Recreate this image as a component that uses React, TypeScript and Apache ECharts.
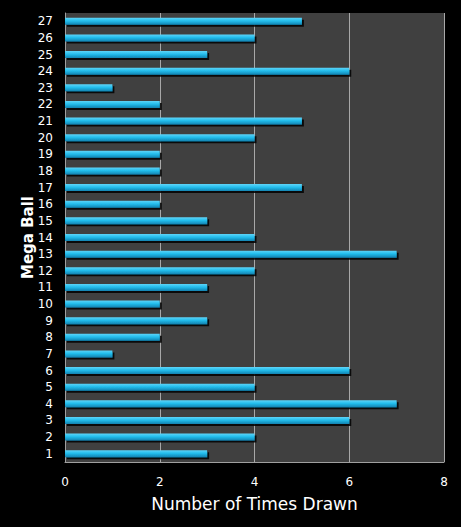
import React, { useEffect, useRef } from "react";
import * as echarts from "echarts";

const categories = ["1","2","3","4","5","6","7","8","9","10","11","12","13","14","15","16","17","18","19","20","21","22","23","24","25","26","27"];
const timesDrawn = [3,4,6,7,4,6,1,2,3,2,3,4,7,4,3,2,5,2,2,4,5,2,1,6,3,4,5];
const xTicks = [0, 2, 4, 6, 8];

export default function App() {
  const ref = useRef<HTMLDivElement>(null);
  useEffect(() => {
    if (!ref.current) return;
    const chart = echarts.init(ref.current, undefined, { renderer: "svg" });
    chart.setOption({
      animation: false,
      backgroundColor: "#000000",
      grid: { left: 65, right: 17, top: 13, bottom: 65, show: true, backgroundColor: "#404040", borderWidth: 0 },
      xAxis: {
        type: "value",
        min: xTicks[0],
        max: xTicks[xTicks.length - 1],
        interval: 2,
        name: "Number of Times Drawn",
        nameLocation: "middle",
        nameGap: 33,
        nameMoveOverlap: false,
        nameTextStyle: { color: "#ffffff", fontSize: 17, fontFamily: "DejaVu Sans" },
        axisLine: { show: true, lineStyle: { color: "#a0a0a0", width: 1 } },
        axisTick: { show: false },
        axisLabel: { color: "#ffffff", fontSize: 12, fontFamily: "DejaVu Sans", margin: 14 },
        splitLine: { show: true, lineStyle: { color: "#a8a8a8", width: 1 } },
      },
      yAxis: {
        type: "category",
        data: categories,
        name: "Mega Ball",
        nameLocation: "middle",
        nameGap: 30,
        nameMoveOverlap: false,
        nameRotate: 90,
        nameTextStyle: { color: "#ffffff", fontSize: 15, fontWeight: "bold", fontFamily: "DejaVu Sans" },
        axisLine: { show: true, lineStyle: { color: "#a0a0a0", width: 1 } },
        axisTick: { show: false },
        axisLabel: { color: "#ffffff", fontSize: 12, fontFamily: "DejaVu Sans", margin: 12 },
        splitLine: { show: false },
      },
      series: [
        {
          type: "bar",
          data: timesDrawn,
          barWidth: 7,
          itemStyle: {
            color: new echarts.graphic.LinearGradient(0, 0, 0, 1, [
              { offset: 0, color: "#5fd4f8" },
              { offset: 0.45, color: "#22bdec" },
              { offset: 1, color: "#1382b0" },
            ]),
            shadowColor: "rgba(0,0,0,0.85)",
            shadowOffsetX: 2,
            shadowOffsetY: 2,
            shadowBlur: 1,
          },
        },
      ],
    });
    return () => chart.dispose();
  }, []);
  return <div ref={ref} style={{ position: "fixed", left: 0, top: 0, width: 461, height: 527 }} />;
}
